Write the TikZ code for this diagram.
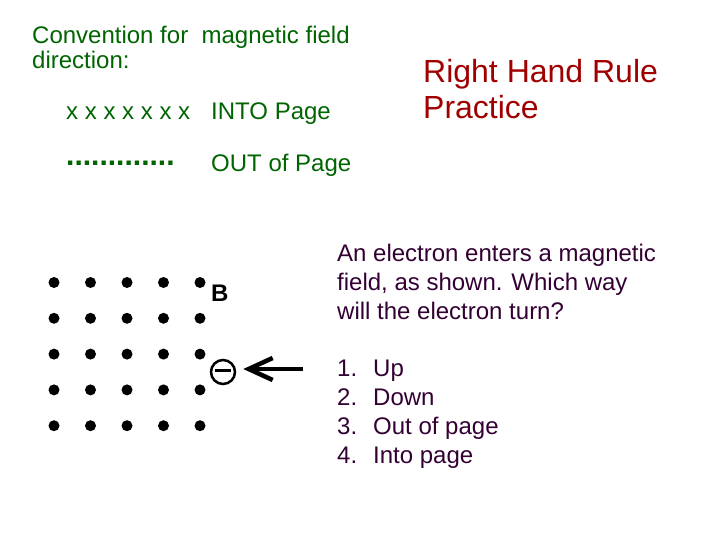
\documentclass[tikz,border=0pt]{standalone}
\usepackage{fontspec}
\setmainfont{Liberation Sans}
\usetikzlibrary{arrows.meta}
\definecolor{convgreen}{RGB}{0,100,0}
\definecolor{titlered}{RGB}{160,0,0}
\definecolor{qpurple}{RGB}{51,0,51}
\begin{document}
\begin{tikzpicture}[x=1pt,y=-1pt,
    txt/.style={anchor=base west,inner sep=0pt,align=left},
    convtxt/.style={txt,text=convgreen,font=\fontsize{24}{25}\selectfont},
    qtxt/.style={txt,text=qpurple,font=\fontsize{24}{29}\selectfont}]
  \useasboundingbox (0,0) rectangle (720,540);
  % convention (base = last line)
  \node[convtxt] (conv) at (32,68.5) {Convention for\ \ magnetic field\\direction:};
  \node[convtxt] (xrow) at (66,120) {x x x x x x x};
  \node[convtxt] (into) at (211,120) {INTO Page};
  \node[txt,text=convgreen,font=\fontsize{30}{30}\bfseries] (dotrow) at (66,166) {.............};
  \node[convtxt] (out) at (211,172) {OUT of Page};
  % title
  \node[txt,text=titlered,font=\fontsize{32}{36}\selectfont] (title) at (423,119)
    {Right Hand Rule\\Practice};
  % field B
  \foreach \i in {0,...,4}
   {
    \foreach \j in {0,...,4}
      \fill (54+36.5*\i,282.5+35.8*\j) circle (5.5);
   }
  \node[txt,font=\fontsize{24}{24}\bfseries] (bfield) at (211,301) {B};
  % electron
  \node[draw,circle,line width=2.5pt,minimum size=24pt,inner sep=0pt] (elec) at (223,372) {};
  \draw[line width=2.5pt] ([xshift=-8pt,yshift=1.5pt]elec.center) -- ([xshift=8pt,yshift=1.5pt]elec.center);
  \coordinate (src) at (303,369);
  \draw[line width=4.5pt,-{Straight Barb[length=24pt,width=22pt]},shorten >=7pt] (src) -- (elec.east |- src);
  % question
  \node[qtxt] (quest) at (337,319.5)
    {An electron enters a magnetic\\field, as shown. Which way\\will the electron turn?};
  \foreach \n/\ans [count=\k from 0] in {1/Up,2/Down,3/Out of page,4/Into page}
   {
    \node[qtxt] (num\n) at (337,376.5+28.9*\k) {\n.};
    \node[qtxt] (ans\n) at (373,376.5+28.9*\k) {\ans};
   }
\end{tikzpicture}
\end{document}
